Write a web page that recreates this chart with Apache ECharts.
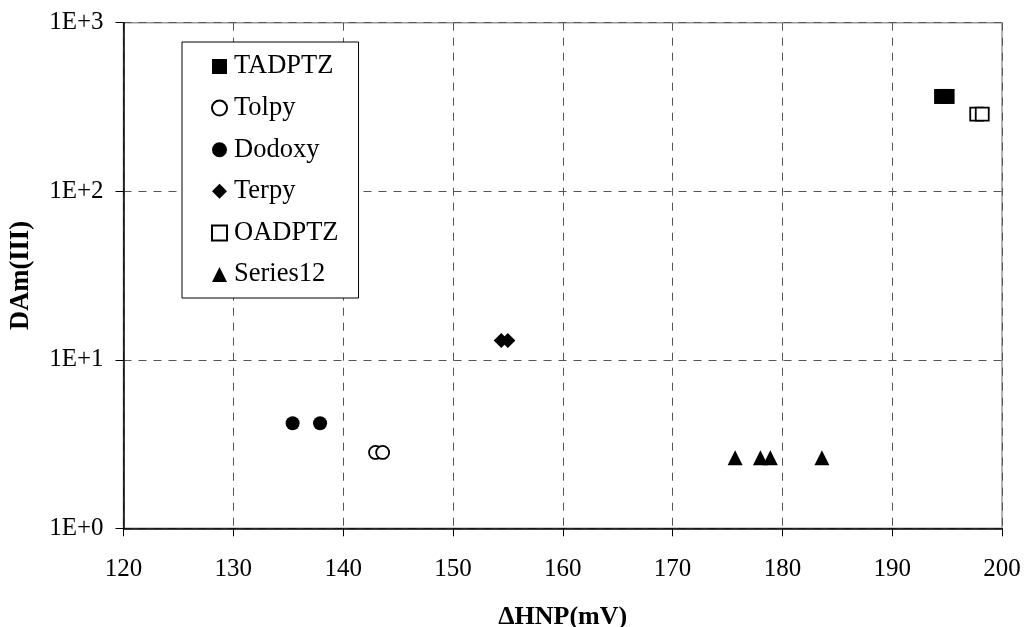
<!DOCTYPE html>
<html><head><meta charset="utf-8">
<script src="https://cdn.jsdelivr.net/npm/echarts@6/dist/echarts.min.js"></script>
<style>html,body{margin:0;padding:0;background:#fff}#c{width:1024px;height:627px}</style>
</head><body><div id="c"></div>
<script>
const seriesNames = ['TADPTZ','Tolpy','Dodoxy','Terpy','OADPTZ','Series12'];
const tadptzX = [194.5, 195.0];   const tadptzY = [365, 365];
const tolpyX = [142.95, 143.6];   const tolpyY = [2.82, 2.82];
const dodoxyX = [135.4, 137.9];   const dodoxyY = [4.2, 4.2];
const terpyX = [154.4, 155.0];    const terpyY = [13.0, 13.0];
const oadptzX = [197.7, 198.2];   const oadptzY = [287, 287];
const s12X = [175.7, 178.0, 178.9, 183.6]; const s12Y = [2.62, 2.62, 2.62, 2.62];
const xTicks = [120,130,140,150,160,170,180,190,200];
const yTickLabels = ['1E+0','1E+1','1E+2','1E+3'];

const pts = (xs, ys) => xs.map((x,i)=>[x, ys[i]]);
const font = 'Liberation Serif';
const chart = echarts.init(document.getElementById('c'), null, {renderer:'canvas'});
const black = '#000';
const FS = 25;
chart.setOption({
  animation:false,
  backgroundColor:'#fff',
  textStyle:{fontFamily:font},
  grid:{left:123.5, right:22, top:22.7, bottom:98.7, containLabel:false, outerBoundsMode:'none',
    show:true, borderColor:'#999', borderWidth:1.5, backgroundColor:'transparent'},
  xAxis:{type:'value', min:xTicks[0], max:xTicks[xTicks.length-1], interval:10,
    name:'\u0394HNP(mV)', nameLocation:'middle', nameGap:76,
    nameTextStyle:{fontFamily:font, fontSize:26, fontWeight:'bold', color:black},
    axisLine:{lineStyle:{color:black, width:1.5}},
    axisTick:{show:true, length:8, lineStyle:{color:black}},
    axisLabel:{fontFamily:font, fontSize:FS, color:black, margin:29},
    splitLine:{show:true, lineStyle:{color:'#555', type:[8,7], width:1}}},
  yAxis:{type:'log', logBase:10, min:1, max:1000,
    name:'DAm(III)', nameLocation:'middle', nameGap:89,
    nameTextStyle:{fontFamily:font, fontSize:26.5, fontWeight:'bold', color:black},
    axisLine:{show:true, lineStyle:{color:black, width:1.5}},
    axisTick:{show:true, length:8, lineStyle:{color:black}},
    axisLabel:{fontFamily:font, fontSize:FS, color:black, margin:20, padding:[6,0,0,0],
      formatter:v=>yTickLabels[Math.round(Math.log10(v))]},
    splitLine:{show:true, lineStyle:{color:'#555', type:[8,7], width:1}}},
  legend:{show:true, orient:'vertical', left:182, top:42, data:seriesNames,
    backgroundColor:'#fff', borderColor:black, borderWidth:1,
    padding:[11,20,10,29], itemGap:14.6, itemWidth:15, itemHeight:15,
    textStyle:{fontFamily:font, fontSize:26.5, color:black, padding:[0,0,0,2]}},
  series:[
    {name:'TADPTZ', type:'scatter', symbol:'rect', symbolSize:15, itemStyle:{color:black, opacity:1}, data:pts(tadptzX,tadptzY)},
    {name:'Tolpy', type:'scatter', symbol:'circle', symbolSize:13, itemStyle:{color:'#fff', borderColor:black, borderWidth:1.8, opacity:1}, data:pts(tolpyX,tolpyY)},
    {name:'Dodoxy', type:'scatter', symbol:'circle', symbolSize:14, itemStyle:{color:black, opacity:1}, data:pts(dodoxyX,dodoxyY)},
    {name:'Terpy', type:'scatter', symbol:'diamond', symbolSize:15, itemStyle:{color:black, opacity:1}, data:pts(terpyX,terpyY)},
    {name:'OADPTZ', type:'scatter', symbol:'rect', symbolSize:13, itemStyle:{color:'#fff', borderColor:black, borderWidth:1.8, opacity:1}, data:pts(oadptzX,oadptzY)},
    {name:'Series12', type:'scatter', symbol:'triangle', symbolSize:15, itemStyle:{color:black, opacity:1}, data:pts(s12X,s12Y)}
  ]
});
</script></body></html>
